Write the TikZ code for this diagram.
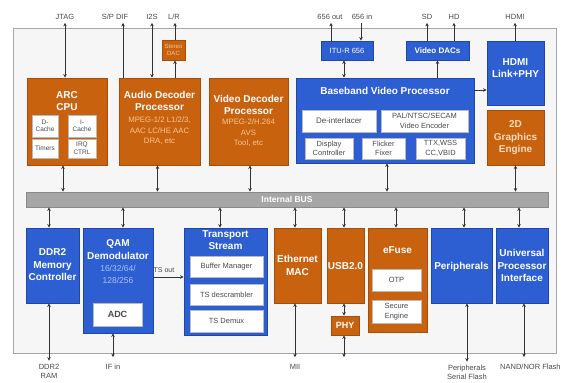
\documentclass[tikz,border=0pt]{standalone}
\usepackage{fontspec}
\setmainfont{Liberation Sans}
\usetikzlibrary{fit,arrows.meta}
\definecolor{orF}{HTML}{C8620F}
\definecolor{orD}{HTML}{A34E0A}
\definecolor{blF}{HTML}{2D5FD3}
\definecolor{blD}{HTML}{1F47A8}
\definecolor{orT}{HTML}{F7C58E}
\definecolor{blT}{HTML}{A9C2F5}
\definecolor{txD}{HTML}{4A4A4A}
\definecolor{lnC}{HTML}{333333}
\definecolor{busF}{HTML}{A6A6A6}
\definecolor{busD}{HTML}{8A8A8A}
\definecolor{bgF}{HTML}{F6F6F6}
\newcommand{\fs}[1]{\fontsize{#1}{#1}\selectfont}
\tikzset{
  obox/.style={draw=orD, fill=orF, line width=0.8pt, inner sep=0pt},
  bbox/.style={draw=blD, fill=blF, line width=0.8pt, inner sep=0pt},
  wbox/.style={draw=gray!55, fill=white, line width=0.6pt, inner sep=0pt},
  ttl/.style={text=white, font=\bfseries\fontsize{10}{12.5}\selectfont, align=center, inner sep=0pt},
  sttl/.style={text=white, font=\bfseries\fontsize{8}{10}\selectfont, align=center, inner sep=0pt},
  osub/.style={text=orT, font=\fontsize{7.8}{10.5}\selectfont, align=center, inner sep=0pt},
  bsub/.style={text=blT, font=\fontsize{8.5}{12}\selectfont, align=center, inner sep=0pt},
  intx/.style={text=txD, font=\fontsize{7.5}{9.5}\selectfont, align=center, inner sep=0pt},
  lbl/.style={text=txD, font=\fontsize{7.5}{9}\selectfont, align=center, inner sep=1pt},
  bi/.style={draw=lnC, line width=0.8pt, {Stealth[length=3.5pt,width=3.5pt]}-{Stealth[length=3.5pt,width=3.5pt]}},
  ar/.style={draw=lnC, line width=0.8pt, -{Stealth[length=3.5pt,width=3.5pt]}},
  arr/.style={draw=lnC, line width=0.8pt, {Stealth[length=3.5pt,width=3.5pt]}-},
}
\begin{document}
\begin{tikzpicture}[x=1pt,y=-1pt]
\useasboundingbox (0,0) rectangle (568,383);
\fill[white] (0,0) rectangle (568,383);
\node[draw=gray!70, fill=bgF, line width=1pt, inner sep=0pt, fit={(13,28)(556,353)}] (frame) {};

% ---------- top row ----------
\node[obox, fit={(27,78)(107,165)}] (arc) {};
\node[ttl] (arct) at (67,101) {ARC\\CPU};
\node[wbox, fit={(32,115)(58,137)}] (dc) {};
\node[intx, font=\fs{6.5}, align=center] (dct) at (dc) {D-\\[1pt]Cache};
\node[wbox, fit={(68,115)(96,137)}] (ic) {};
\node[intx, font=\fs{6.5}] (ict) at (ic) {I-\\[1pt]Cache};
\node[wbox, fit={(32,139)(58,158)}] (tm) {};
\node[intx, font=\fs{6.5}] (tmt) at (tm) {Timers};
\node[wbox, fit={(68,139)(96,158)}] (irq) {};
\node[intx, font=\fs{6.5}] (irqt) at (irq) {IRQ\\[1pt]CTRL};

\node[obox, fit={(119,78)(200,165)}] (aud) {};
\node[ttl] (audt) at (159.5,101) {Audio Decoder\\Processor};
\node[osub] (auds) at (159.5,131) {MPEG-1/2 L1/2/3,\\AAC LC/HE AAC\\DRA, etc};

\node[obox, fit={(162,40)(185,60)}] (sdac) {};
\node[text=orT, font=\fontsize{6}{7}\selectfont, align=center, inner sep=0pt] (sdact) at (sdac) {Stereo\\DAC};

\node[obox, fit={(209,78)(288,165)}] (vdp) {};
\node[ttl] (vdpt) at (248.5,105) {Video Decoder\\Processor};
\node[osub] (vdps) at (248.5,133) {MPEG-2/H.264\\AVS\\Tool, etc};

\node[bbox, fit={(321,41)(373,60)}] (itu) {};
\node[sttl, font=\fs{7.5}] (itut) at (itu) {ITU-R 656};

\node[bbox, fit={(296,78)(474,163)}] (bvp) {};
\node[ttl] (bvpt) at (385,91) {Baseband Video Processor};
\node[wbox, fit={(302,110)(376,132)}] (dei) {};
\node[intx, font=\fs{8}] (deit) at (dei) {De-interlacer};
\node[wbox, fit={(381,110)(468,132)}] (pal) {};
\node[intx] (palt) at (pal) {PAL/NTSC/SECAM\\Video Encoder};
\node[wbox, fit={(305,138)(353,159)}] (disp) {};
\node[intx] (dispt) at (disp) {Display\\Controller};
\node[wbox, fit={(362,138)(405,159)}] (flk) {};
\node[intx] (flkt) at (flk) {Flicker\\Fixer};
\node[wbox, fit={(416,138)(465,159)}] (ttx) {};
\node[intx] (ttxt) at (ttx) {TTX,WSS\\CC,VBID};

\node[bbox, fit={(406,41)(469,60)}] (vdac) {};
\node[sttl] (vdact) at (vdac) {Video DACs};

\node[bbox, fit={(487,41)(544,105)}] (hdmi) {};
\node[ttl] (hdmit) at (515.5,68) {HDMI\\Link+PHY};
\node[obox, fit={(487,110)(544,165)}] (gfx) {};
\node[ttl, text=orT!60!white] (gfxt) at (515.5,138) {2D\\Graphics\\Engine};

% ---------- bus ----------
\node[draw=busD, fill=busF, line width=0.8pt, inner sep=0pt, fit={(26,192)(548,207)}] (bus) {};
\node[text=white, font=\bfseries\fs{8.5}, inner sep=0pt] (bust) at (287,199.5) {Internal BUS};

% ---------- bottom row ----------
\node[bbox, fit={(26,228)(79,303)}] (ddr) {};
\node[ttl] (ddrt) at (52.5,265) {DDR2\\Memory\\Controller};

\node[bbox, fit={(83,228)(153,333)}] (qam) {};
\node[ttl] (qamt) at (118,249.5) {QAM\\Demodulator};
\node[bsub] (qams) at (118,274) {16/32/64/\\128/256};
\node[wbox, fit={(93,303)(142,326)}] (adc) {};
\node[text=txD, font=\bfseries\fs{9}, inner sep=0pt] (adct) at (adc) {ADC};

\node[bbox, fit={(184,228)(267,335)}] (ts) {};
\node[ttl] (tst) at (225.5,240) {Transport\\Stream};
\node[wbox, fit={(190,256)(263,277)}] (buf) {};
\node[intx] (buft) at (buf) {Buffer Manager};
\node[wbox, fit={(190,284)(263,305)}] (desc) {};
\node[intx] (desct) at (desc) {TS descrambler};
\node[wbox, fit={(190,310)(263,332)}] (dmx) {};
\node[intx] (dmxt) at (dmx) {TS Demux};

\node[obox, fit={(274,228)(321,303)}] (eth) {};
\node[ttl] (etht) at (297.5,265.5) {Ethernet\\MAC};

\node[obox, fit={(327,228)(364,303)}] (usb) {};
\node[ttl] (usbt) at (345.5,266) {USB2.0};
\node[obox, fit={(331,316)(359,335)}] (phy) {};
\node[ttl, font=\bfseries\fs{9}] (phyt) at (phy) {PHY};

\node[obox, fit={(368,228)(427,332)}] (efu) {};
\node[ttl] (efut) at (397.5,250) {eFuse};
\node[wbox, fit={(372,269)(421,291)}] (otp) {};
\node[intx] (otpt) at (otp) {OTP};
\node[wbox, fit={(372,300)(421,323)}] (sec) {};
\node[intx] (sect) at (sec) {Secure\\Engine};

\node[bbox, fit={(431,228)(492,303)}] (per) {};
\node[ttl] (pert) at (461.5,267) {Peripherals};

\node[bbox, fit={(496,228)(548,303)}] (upi) {};
\node[ttl] (upit) at (522,265.5) {Universal\\Processor\\Interface};

% ---------- outside labels ----------
\node[lbl] (jtag) at (65,17) {JTAG};
\node[lbl] (spdif) at (115,17) {S/P DIF};
\node[lbl] (i2s) at (152,17) {I2S};
\node[lbl] (lr) at (174,17) {L/R};
\node[lbl] (o656) at (330,17) {656 out};
\node[lbl] (i656) at (362,17) {656 in};
\node[lbl] (sd) at (427,17) {SD};
\node[lbl] (hd) at (454,17) {HD};
\node[lbl] (hdl) at (515,17) {HDMI};

\node[lbl] (ddrram) at (49,371) {DDR2\\RAM};
\node[lbl] (ifin) at (113,367) {IF in};
\node[lbl] (mii) at (295,367) {MII};
\node[lbl] (pflash) at (467,372) {Peripherals\\Serial Flash};
\node[lbl, anchor=west] (nand) at (499,367) {NAND/NOR Flash};

\coordinate (spx) at (123,0);
\coordinate (lrx) at (175,0);
\coordinate (ox) at (331,0);
\coordinate (ix) at (361,0);
\coordinate (itx) at (344,0);
\coordinate (upx) at (524,0);
\coordinate (tsy) at (0,277);
\coordinate (hy) at (0,90);
\coordinate (phyend) at (344,357);

% ---------- top connectors ----------
\draw[bi] ([yshift=-2pt]jtag.south) -- (arc.north -| jtag.south);
\draw[ar] (aud.north -| spx) -- ([yshift=-2pt]spdif.south -| spx);
\draw[bi] ([yshift=-2pt]i2s.south) -- (aud.north -| i2s.south);
\draw[ar] (sdac.north -| lrx) -- ([yshift=-2pt]lr.south -| lrx);
\draw[ar] (aud.north -| lrx) -- (sdac.south -| lrx);
\draw[ar] (itu.north -| ox) -- ([yshift=-2pt]o656.south -| ox);
\draw[arr] (itu.north -| ix) -- ([yshift=-2pt]i656.south -| ix);
\draw[bi] (itu.south -| itx) -- (bvp.north -| itx);
\draw[ar] (vdac.north -| sd.south) -- ([yshift=-2pt]sd.south);
\draw[ar] (vdac.north -| hd.south) -- ([yshift=-2pt]hd.south);
\draw[ar] (bvp.north -| vdac.south) -- (vdac.south);
\draw[ar] (hdmi.north -| hdl.south) -- ([yshift=-2pt]hdl.south);
\draw[ar] (bvp.east |- hy) -- (hdmi.west |- hy);

% ---------- bus connectors ----------
\draw[bi] ([xshift=-4pt]arc.south) -- ([xshift=-4pt]arc.south |- bus.north);
\draw[bi] ([xshift=-2pt]aud.south) -- ([xshift=-2pt]aud.south |- bus.north);
\draw[bi] ([xshift=1.5pt]vdp.south) -- ([xshift=1.5pt]vdp.south |- bus.north);
\draw[bi] ([xshift=2pt]bvp.south) -- ([xshift=2pt]bvp.south |- bus.north);
\draw[bi] (gfx.south) -- (gfx.south |- bus.north);

\draw[bi] ([xshift=-3.5pt]ddr.north |- bus.south) -- ([xshift=-3.5pt]ddr.north);
\draw[bi] ([xshift=5pt]qam.north |- bus.south) -- ([xshift=5pt]qam.north);
\draw[bi] ([xshift=-5.5pt]ts.north |- bus.south) -- ([xshift=-5.5pt]ts.north);
\draw[bi] ([xshift=-2.5pt]eth.north |- bus.south) -- ([xshift=-2.5pt]eth.north);
\draw[bi] ([xshift=-1.5pt]usb.north |- bus.south) -- ([xshift=-1.5pt]usb.north);
\draw[bi] ([xshift=-1.5pt]efu.north |- bus.south) -- ([xshift=-1.5pt]efu.north);
\draw[bi] ([xshift=2.5pt]per.north |- bus.south) -- ([xshift=2.5pt]per.north);
\draw[bi] ([xshift=-3pt]upi.north |- bus.south) -- ([xshift=-3pt]upi.north);

% ---------- bottom connectors ----------
\draw[bi] (ddr.south -| ddrram.north) -- ([yshift=2pt]ddrram.north);
\draw[bi] (qam.south -| ifin.north) -- ([yshift=6pt]ifin.north);
\draw[ar] (qam.east |- tsy) -- (ts.west |- tsy);
\node[lbl, font=\fs{7}] (tsout) at (164,270) {TS out};
\draw[bi] (eth.south -| mii.north) -- ([yshift=6pt]mii.north);
\draw[bi] (usb.south -| itx) -- (phy.north -| itx);
\draw[bi] (phy.south -| itx) -- (phyend);
\draw[bi] (per.south -| pflash.north) -- ([yshift=2pt]pflash.north);
\draw[bi] (upi.south -| upx) -- (upx |- phyend);
\end{tikzpicture}
\end{document}
